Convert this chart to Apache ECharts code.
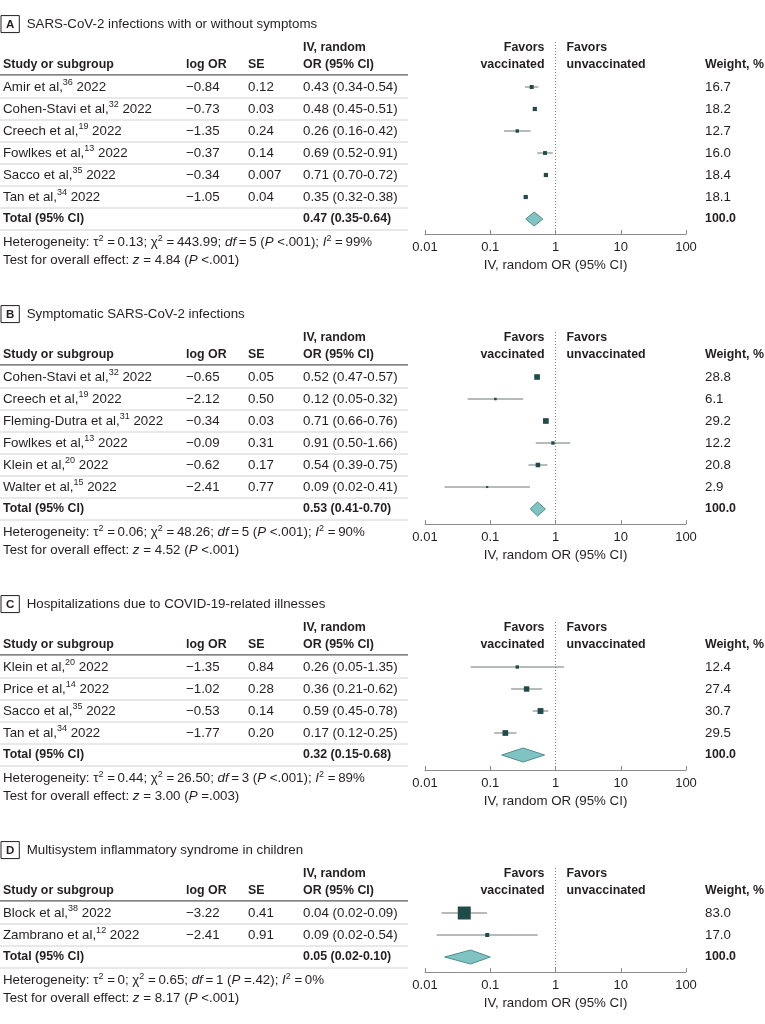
<!DOCTYPE html>
<html>
<head>
<meta charset="utf-8">
<script src="https://cdn.jsdelivr.net/npm/echarts@6/dist/echarts.min.js"></script>
<style>
html,body{margin:0;padding:0;background:#fff}
#main{width:765px;height:1024px}
</style>
</head>
<body>
<div id="main"></div>
<script>
// panel headings
var panelLetters = ['A', 'B', 'C', 'D'];
var panelTitles = [
    'SARS-CoV-2 infections with or without symptoms',
    'Symptomatic SARS-CoV-2 infections',
    'Hospitalizations due to COVID-19-related illnesses',
    'Multisystem inflammatory syndrome in children'
];
var xTickLabels = ['0.01', '0.1', '1', '10', '100'];

// A
var studiesA = ['Amir et al,', 'Cohen-Stavi et al,', 'Creech et al,', 'Fowlkes et al,', 'Sacco et al,', 'Tan et al,'];
var refsA = ['36', '32', '19', '13', '35', '34'];
var logOrA = [-0.84, -0.73, -1.35, -0.37, -0.34, -1.05];
var seA = [0.12, 0.03, 0.24, 0.14, 0.007, 0.04];
var orA = [0.43, 0.48, 0.26, 0.69, 0.71, 0.35];
var loA = [0.34, 0.45, 0.16, 0.52, 0.70, 0.32];
var hiA = [0.54, 0.51, 0.42, 0.91, 0.72, 0.38];
var weightA = [16.7, 18.2, 12.7, 16.0, 18.4, 18.1];
var totalA = [0.47, 0.35, 0.64];

// B
var studiesB = ['Cohen-Stavi et al,', 'Creech et al,', 'Fleming-Dutra et al,', 'Fowlkes et al,', 'Klein et al,', 'Walter et al,'];
var refsB = ['32', '19', '31', '13', '20', '15'];
var logOrB = [-0.65, -2.12, -0.34, -0.09, -0.62, -2.41];
var seB = [0.05, 0.50, 0.03, 0.31, 0.17, 0.77];
var orB = [0.52, 0.12, 0.71, 0.91, 0.54, 0.09];
var loB = [0.47, 0.05, 0.66, 0.50, 0.39, 0.02];
var hiB = [0.57, 0.32, 0.76, 1.66, 0.75, 0.41];
var weightB = [28.8, 6.1, 29.2, 12.2, 20.8, 2.9];
var totalB = [0.53, 0.41, 0.70];

// C
var studiesC = ['Klein et al,', 'Price et al,', 'Sacco et al,', 'Tan et al,'];
var refsC = ['20', '14', '35', '34'];
var logOrC = [-1.35, -1.02, -0.53, -1.77];
var seC = [0.84, 0.28, 0.14, 0.20];
var orC = [0.26, 0.36, 0.59, 0.17];
var loC = [0.05, 0.21, 0.45, 0.12];
var hiC = [1.35, 0.62, 0.78, 0.25];
var weightC = [12.4, 27.4, 30.7, 29.5];
var totalC = [0.32, 0.15, 0.68];

// D
var studiesD = ['Block et al,', 'Zambrano et al,'];
var refsD = ['38', '12'];
var logOrD = [-3.22, -2.41];
var seD = [0.41, 0.91];
var orD = [0.04, 0.09];
var loD = [0.02, 0.02];
var hiD = [0.09, 0.54];
var weightD = [83.0, 17.0];
var totalD = [0.05, 0.02, 0.10];

// heterogeneity / overall effect lines
var hetTau2 = ['0.13', '0.06', '0.44', '0'];
var hetChi2 = ['443.99', '48.26', '26.50', '0.65'];
var hetDf = [5, 5, 3, 1];
var hetP = ['<.001', '<.001', '<.001', '=.42'];
var hetI2 = [99, 90, 89, 0];
var testZ = ['4.84', '4.52', '3.00', '8.17'];
var testP = ['<.001', '<.001', '=.003', '<.001'];

var panels = [
    {names: studiesA, refs: refsA, logOr: logOrA, se: seA, or: orA, lo: loA, hi: hiA, w: weightA, total: totalA},
    {names: studiesB, refs: refsB, logOr: logOrB, se: seB, or: orB, lo: loB, hi: hiB, w: weightB, total: totalB},
    {names: studiesC, refs: refsC, logOr: logOrC, se: seC, or: orC, lo: loC, hi: hiC, w: weightC, total: totalC},
    {names: studiesD, refs: refsD, logOr: logOrD, se: seD, or: orD, lo: loD, hi: hiD, w: weightD, total: totalD}
];

var FONT = '"Liberation Sans", Arial, sans-serif';
var INK = '#231f20';
var COL = {study: 3, logor: 186, se: 248, or: 303, weight: 705, ruleEnd: 408};
var ROW = 22;
var FS = 13.3;
var TH = '\u2009';

function num2(v) {
    return (v < 0 ? '\u2212' : '') + Math.abs(v).toFixed(2);
}
function seTxt(v) {
    var s = v.toFixed(2);
    return Number(s) === v ? s : String(v);
}
function orTxt(o, l, h) {
    return o.toFixed(2) + ' (' + l.toFixed(2) + '-' + h.toFixed(2) + ')';
}

var rich = {
    n: {fontSize: FS, fontFamily: FONT, fill: INK, lineHeight: 17},
    b: {fontSize: 12.4, fontFamily: FONT, fill: INK, fontWeight: 'bold', lineHeight: 17},
    i: {fontSize: FS, fontFamily: FONT, fill: INK, fontStyle: 'italic', lineHeight: 17},
    s: {fontSize: 9, fontFamily: FONT, fill: INK, lineHeight: 10, verticalAlign: 'top'},
    t: {fontSize: 13.3, fontFamily: FONT, fill: INK, lineHeight: 18},
    box: {fontSize: 11.5, fontFamily: FONT, fill: INK, fontWeight: 'bold', borderColor: INK,
        borderWidth: 1, padding: [3, 5, 2, 5], lineHeight: 13}
};

function txt(x, y, s, align) {
    return {
        type: 'text', x: x, y: y, silent: true,
        style: {text: s, align: align || 'left', verticalAlign: 'middle', rich: rich,
            fontSize: FS, fontFamily: FONT, fill: INK}
    };
}
function hline(x1, x2, y, color, w) {
    return {type: 'line', silent: true, shape: {x1: x1, y1: y, x2: x2, y2: y},
        style: {stroke: color, lineWidth: w}};
}

// text columns, rules, headings and footnotes of one panel
function tableItem(k) {
    var p = panels[k];
    var n = p.names.length;
    return function (params, api) {
        var i = api.value(1);
        var y = api.coord([1, i])[1];
        var kids = [];
        if (i < n) {
            kids.push(txt(COL.study, y, '{n|' + p.names[i] + '}{s|' + p.refs[i] + '}{n| 2022}'));
            kids.push(txt(COL.logor, y, '{n|' + num2(p.logOr[i]) + '}'));
            kids.push(txt(COL.se, y, '{n|' + seTxt(p.se[i]) + '}'));
            kids.push(txt(COL.or, y, '{n|' + orTxt(p.or[i], p.lo[i], p.hi[i]) + '}'));
            kids.push(txt(COL.weight, y, '{n|' + p.w[i].toFixed(1) + '}'));
        } else {
            kids.push(txt(COL.study, y, '{b|Total (95% CI)}'));
            kids.push(txt(COL.or, y, '{b|' + orTxt(p.total[0], p.total[1], p.total[2]) + '}'));
            kids.push(txt(COL.weight, y, '{b|100.0}'));
            var yh = api.coord([1, i + 1.05])[1];
            var yt = api.coord([1, i + 1.86])[1];
            kids.push(txt(COL.study, yh, '{n|Heterogeneity: \u03c4}{s|2}{n| =' + TH + hetTau2[k] + '; \u03c7}{s|2}{n| =' + TH +
                hetChi2[k] + '; }{i|df}{n|' + TH + '=' + TH + hetDf[k] + ' (}{i|P}{n| ' + hetP[k] + '); }{i|I}{s|2}{n| =' + TH + hetI2[k] + '%}'));
            kids.push(txt(COL.study, yt, '{n|Test for overall effect: }{i|z}{n| = ' + testZ[k] + ' (}{i|P}{n| ' + testP[k] + ')}'));
        }
        kids.push(hline(0, COL.ruleEnd, api.coord([1, i + 0.5])[1], '#d2d2d2', 1));
        if (i === 0) {
            var x1 = api.coord([1, 0])[0];
            var yTitle = api.coord([1, -2.86])[1];
            var yTop = api.coord([1, -1.77])[1];
            var yHead = api.coord([1, -1])[1];
            kids.push(txt(1, yTitle, '{box|' + panelLetters[k] + '}{t|  ' + panelTitles[k] + '}'));
            kids.push(txt(COL.or, yTop, '{b|IV, random}'));
            kids.push(txt(COL.study, yHead, '{b|Study or subgroup}'));
            kids.push(txt(COL.logor, yHead, '{b|log OR}'));
            kids.push(txt(COL.se, yHead, '{b|SE}'));
            kids.push(txt(COL.or, yHead, '{b|OR (95% CI)}'));
            kids.push(txt(COL.weight, yHead, '{b|Weight, %}'));
            kids.push(txt(x1 - 11, yTop, '{b|Favors}', 'right'));
            kids.push(txt(x1 - 11, yHead, '{b|vaccinated}', 'right'));
            kids.push(txt(x1 + 11, yTop, '{b|Favors}'));
            kids.push(txt(x1 + 11, yHead, '{b|unvaccinated}'));
            kids.push(hline(0, COL.ruleEnd, api.coord([1, -0.55])[1], '#5a5a5a', 1.4));
        }
        return {type: 'group', children: kids};
    };
}

// CI whiskers, weight squares, pooled diamond and the line of no effect
function forestItem(k) {
    var p = panels[k];
    var n = p.names.length;
    return function (params, api) {
        var i = api.value(1);
        var kids = [];
        if (i === 0) {
            var top = api.coord([1, -45 / ROW]);
            var bot = api.coord([1, n + 15 / ROW]);
            kids.push({type: 'line', shape: {x1: top[0], y1: top[1], x2: bot[0], y2: bot[1]},
                style: {stroke: '#808080', lineWidth: 1, lineDash: [1, 2]}, z2: 0});
        }
        if (i < n) {
            var l = api.coord([Math.exp(p.logOr[i] - 1.96 * p.se[i]), i]);
            var h = api.coord([Math.exp(p.logOr[i] + 1.96 * p.se[i]), i]);
            var c = api.coord([Math.exp(p.logOr[i]), i]);
            var s = 1.7 + 0.136 * p.w[i];
            kids.push({type: 'line', shape: {x1: l[0], y1: l[1], x2: h[0], y2: h[1]},
                style: {stroke: '#6f7877', lineWidth: 1}, z2: 1});
            kids.push({type: 'rect', shape: {x: c[0] - s / 2, y: c[1] - s / 2, width: s, height: s},
                style: {fill: '#1f4b49'}, z2: 2});
        } else {
            var a = api.coord([p.total[1], i]);
            var m = api.coord([p.total[0], i]);
            var b = api.coord([p.total[2], i]);
            kids.push({
                type: 'polygon', z2: 2,
                shape: {points: [[a[0], a[1]], [m[0], m[1] - 7], [b[0], b[1]], [m[0], m[1] + 7]]},
                style: {fill: '#7fc3c3', stroke: '#4f8e8e', lineWidth: 1}
            });
        }
        return {type: 'group', children: kids};
    };
}

var grids = [], xAxes = [], yAxes = [], series = [];
var T = 24;
panels.forEach(function (p, k) {
    var n = p.names.length;
    grids.push({left: 425, right: 79, top: T + 18, height: 60 + ROW * n});
    xAxes.push({
        gridIndex: k, type: 'log', logBase: 10, min: 0.01, max: 100,
        name: 'IV, random OR (95% CI)', nameLocation: 'middle', nameGap: 25,
        nameTextStyle: {fontFamily: FONT, fontSize: FS, color: INK},
        axisLine: {onZero: false, lineStyle: {color: '#8c8c8c', width: 1}},
        axisTick: {inside: true, length: 4, lineStyle: {color: '#8c8c8c'}},
        axisLabel: {fontFamily: FONT, fontSize: 13, color: INK, margin: 7,
            formatter: function (v) { return xTickLabels[Math.round(Math.log10(v)) + 2]; }},
        splitLine: {show: false}, minorTick: {show: false}
    });
    yAxes.push({gridIndex: k, type: 'value', inverse: true, show: false,
        min: -45 / ROW, max: n + 15 / ROW, splitLine: {show: false}});
    var rows = [];
    for (var i = 0; i <= n; i++) rows.push([1, i]);
    series.push({
        type: 'custom', xAxisIndex: k, yAxisIndex: k, data: rows, clip: false, silent: true,
        renderItem: tableItem(k), z: 2
    });
    series.push({
        type: 'custom', xAxisIndex: k, yAxisIndex: k, data: rows, clip: false, silent: true,
        renderItem: forestItem(k), z: 4
    });
    T = T + 63 + ROW * n + 95;
});

var chart = echarts.init(document.getElementById('main'));
chart.setOption({
    animation: false,
    backgroundColor: '#fff',
    grid: grids, xAxis: xAxes, yAxis: yAxes, series: series
});
</script>
</body>
</html>
